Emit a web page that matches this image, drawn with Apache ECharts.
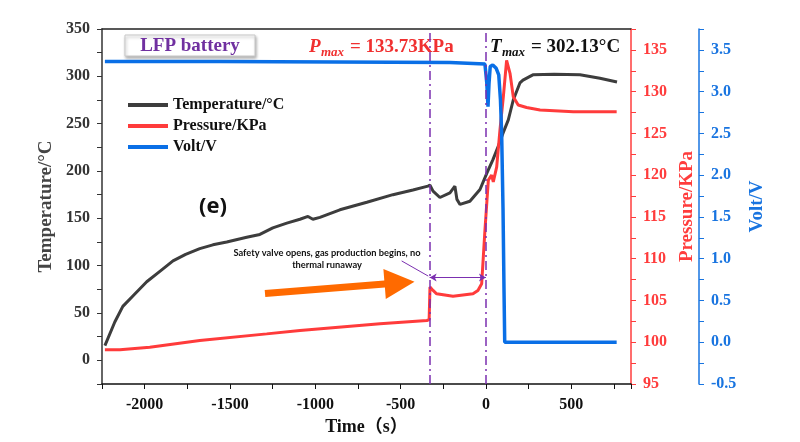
<!DOCTYPE html>
<html>
<head>
<meta charset="utf-8">
<script src="https://cdn.jsdelivr.net/npm/echarts@6/dist/echarts.min.js"></script>
<style>html,body{margin:0;background:#fff}#chart{width:800px;height:442px}</style>
</head>
<body>
<div id="chart"></div>
<script>
// time in s
var tempTime = [-2233, -2175, -2128, -2069, -1988, -1911, -1834, -1760, -1677, -1600, -1519, -1402, -1325, -1249, -1167, -1090, -1043, -1014, -973, -856, -698, -545, -428, -340, -328, -310, -270, -211, -182, -170, -152, -94, -35, 6, 41, 72, 100, 131, 160, 199, 217, 275, 400, 551, 668, 768];
var tempVal = [15.6, 40.5, 57, 68, 83, 94, 105, 112, 118, 122, 125, 130, 133, 140, 145, 149, 152, 149, 151, 159, 167, 175, 180, 184, 185, 178.7, 172, 177, 184, 170, 164.7, 168, 180.5, 198, 212, 226, 240, 254, 275, 293, 296, 301.6, 302.1, 301.6, 298, 294];

var presTime = [-2233, -2145, -1970, -1677, -1285, -1090, -621, -346, -333, -328, -310, -289, -193, -76, -47, -25, -6, 6, 14, 33, 43, 63, 82, 102, 121, 141, 160, 189, 238, 317, 512, 766];
var presVal = [99.1, 99.1, 99.4, 100.2, 101.0, 101.4, 102.2, 102.6, 102.7, 106.6, 106.2, 105.8, 105.5, 105.8, 106.2, 107, 113.4, 117, 119.4, 120, 119.2, 121, 125.4, 129.4, 133.73, 132.2, 129.4, 128.4, 128.1, 127.8, 127.6, 127.6];

var voltTime = [-2233, -1560, -1555, -211, -205, -6, 5, 12, 18, 25, 40, 60, 75, 85, 92, 100, 106, 110, 766];
var voltVal = [3.36, 3.36, 3.35, 3.35, 3.33, 3.33, 3.1, 2.82, 3.1, 3.3, 3.32, 3.28, 3.2, 2.9, 2.5, 1.6, 0.6, 0, 0];

var markTimes = [-330, 0];

var serif = 'Liberation Serif';

function pairs(xs, ys) {
	return xs.map(function(x, i) { return [x, ys[i]]; });
}

var myChart = echarts.init(document.getElementById('chart'));

var option = {
	animation: false,
	backgroundColor: '#fff',
	grid: { left: 102, right: 169, top: 29, bottom: 58 },
	legend: {
		orient: 'vertical',
		left: 123,
		top: 92,
		icon: 'rect',
		itemWidth: 40,
		itemHeight: 4,
		itemGap: 5,
		textStyle: { fontFamily: serif, fontWeight: 'bold', fontSize: 16, color: '#111', lineHeight: 16 },
		data: ['Temperature/°C', 'Pressure/KPa', 'Volt/V']
	},
	xAxis: [{
		type: 'value',
		min: -2250,
		max: 850,
		interval: 250,
		position: 'bottom',
		axisLine: { onZero: false, lineStyle: { color: '#111', width: 1.5 } },
		axisTick: { length: 5, lineStyle: { color: '#111' } },
		splitLine: { show: false },
		axisLabel: {
			margin: 13,
			fontFamily: serif, fontWeight: 'bold', fontSize: 16, color: '#111',
			formatter: function(v) { return v % 500 === 0 ? String(v) : ''; }
		},
		name: 'Time（s）',
		nameLocation: 'middle',
		nameGap: 30,
		nameTextStyle: { fontFamily: serif + ', Noto Sans CJK SC', fontWeight: 'bold', fontSize: 18, color: '#111' }
	}, {
		type: 'value',
		min: -2250,
		max: 850,
		position: 'top',
		axisLine: { onZero: false, lineStyle: { color: '#222', width: 1.5 } },
		axisTick: { show: false },
		axisLabel: { show: false },
		splitLine: { show: false }
	}],
	yAxis: [{
		type: 'value',
		min: -25,
		max: 350,
		interval: 25,
		position: 'left',
		axisLine: { show: true, onZero: false, lineStyle: { color: '#333', width: 1.5 } },
		axisTick: { show: true, length: 5, lineStyle: { color: '#333' } },
		splitLine: { show: false },
		axisLabel: {
			margin: 12,
			fontFamily: serif, fontWeight: 'bold', fontSize: 16, color: '#333',
			formatter: function(v) { return v % 50 === 0 ? String(v) : ''; }
		},
		name: 'Temperature/°C',
		nameLocation: 'middle',
		nameGap: 41,
		nameTextStyle: { fontFamily: serif, fontWeight: 'bold', fontSize: 19, color: '#444' }
	}, {
		type: 'value',
		min: 95,
		max: 137.5,
		interval: 2.5,
		position: 'right',
		axisLine: { show: true, onZero: false, lineStyle: { color: '#ff3c3c', width: 1.5 } },
		axisTick: { show: true, length: 5, lineStyle: { color: '#ff3c3c' } },
		splitLine: { show: false },
		axisLabel: {
			margin: 12,
			fontFamily: serif, fontWeight: 'bold', fontSize: 16, color: '#ff3c3c',
			formatter: function(v) { return v % 5 === 0 ? String(v) : ''; }
		},
		name: 'Pressure/KPa',
		nameLocation: 'middle',
		nameRotate: 90,
		nameGap: 47,
		nameTextStyle: { fontFamily: serif, fontWeight: 'bold', fontSize: 19, color: '#ff3c3c' }
	}, {
		type: 'value',
		min: -0.5,
		max: 3.75,
		interval: 0.25,
		position: 'right',
		offset: 68,
		axisLine: { show: true, onZero: false, lineStyle: { color: '#1874e0', width: 1.5 } },
		axisTick: { show: true, length: 5, lineStyle: { color: '#1874e0' } },
		splitLine: { show: false },
		axisLabel: {
			margin: 12,
			fontFamily: serif, fontWeight: 'bold', fontSize: 16, color: '#1874e0',
			formatter: function(v) {
				return Math.abs(v * 2 - Math.round(v * 2)) < 1e-9 ? v.toFixed(1) : '';
			}
		},
		name: 'Volt/V',
		nameLocation: 'middle',
		nameRotate: 90,
		nameGap: 47,
		nameTextStyle: { fontFamily: serif, fontWeight: 'bold', fontSize: 19, color: '#1874e0' }
	}],
	series: [{
		name: 'Temperature/°C',
		type: 'line',
		yAxisIndex: 0,
		showSymbol: false,
		symbol: 'none',
		lineStyle: { color: '#3d3d3d', width: 3 },
		itemStyle: { color: '#3d3d3d' },
		data: pairs(tempTime, tempVal),
		markLine: {
			silent: true,
			symbol: 'none',
			label: { show: false },
			lineStyle: { color: '#7b2fb0', width: 1.5, type: [9, 4, 2, 4] },
			data: [
				{ xAxis: markTimes[0] },
				{ xAxis: markTimes[1] },
				[
					{ coord: [markTimes[0], 87.6], symbol: 'arrow', symbolSize: [6, 7], lineStyle: { type: 'solid', width: 1.2 } },
					{ coord: [markTimes[1], 87.6], symbol: 'arrow', symbolSize: [6, 7] }
				],
				[
					{ coord: [-494, 105], lineStyle: { type: 'solid', width: 1 } },
					{ coord: [-338, 89] }
				]
			]
		}
	}, {
		name: 'Pressure/KPa',
		type: 'line',
		yAxisIndex: 1,
		showSymbol: false,
		symbol: 'none',
		lineStyle: { color: '#ff3b3b', width: 3 },
		itemStyle: { color: '#ff3b3b' },
		data: pairs(presTime, presVal)
	}, {
		name: 'Volt/V',
		type: 'line',
		yAxisIndex: 2,
		showSymbol: false,
		symbol: 'none',
		lineStyle: { color: '#0a6fe6', width: 3.5 },
		itemStyle: { color: '#0a6fe6' },
		data: pairs(voltTime, voltVal)
	}],
	graphic: [
		{ type: 'rect', shape: { x: 125, y: 35, width: 130, height: 21 },
		  style: { fill: '#fff', stroke: '#c8c8c8', lineWidth: 1, shadowBlur: 3, shadowOffsetX: 1, shadowOffsetY: 2, shadowColor: 'rgba(0,0,0,0.3)' } },
		{ type: 'text', x: 190, y: 46, style: { text: 'LFP battery', fill: '#7030a0', font: 'bold 19px ' + serif, textAlign: 'center', textVerticalAlign: 'middle' } },
		{ type: 'text', x: 213, y: 207, style: { text: '(e)', fill: '#111', font: 'bold 22px Open Sans', textAlign: 'center', textVerticalAlign: 'middle' } },
		{ type: 'text', x: 327, y: 253, style: { text: 'Safety valve opens, gas production begins, no', fill: '#111', font: 'bold 9.3px Lato', textAlign: 'center', textVerticalAlign: 'middle' } },
		{ type: 'text', x: 327, y: 264.5, style: { text: 'thermal runaway', fill: '#111', font: 'bold 9.3px Lato', textAlign: 'center', textVerticalAlign: 'middle' } },
		{ type: 'polygon', shape: { points: [[264.7, 290], [384.3, 280.6], [383.4, 269.1], [414.5, 281.8], [385.8, 299.1], [384.9, 287.6], [265.3, 297]] },
		  style: { fill: '#ff6a00' } },
		{ type: 'text', x: 309, y: 47, style: { text: 'P', fill: '#f03030', font: 'italic bold 19px ' + serif, textVerticalAlign: 'middle' } },
		{ type: 'text', x: 321, y: 53, style: { text: 'max', fill: '#f03030', font: 'italic bold 13px ' + serif, textVerticalAlign: 'middle' } },
		{ type: 'text', x: 350, y: 47, style: { text: '= 133.73KPa', fill: '#f03030', font: 'bold 19px ' + serif, textVerticalAlign: 'middle' } },
		{ type: 'text', x: 490, y: 47, style: { text: 'T', fill: '#111', font: 'italic bold 19px ' + serif, textVerticalAlign: 'middle' } },
		{ type: 'text', x: 502, y: 53, style: { text: 'max', fill: '#111', font: 'italic bold 13px ' + serif, textVerticalAlign: 'middle' } },
		{ type: 'text', x: 531, y: 47, style: { text: '= 302.13°C', fill: '#111', font: 'bold 19px ' + serif, textVerticalAlign: 'middle' } }
	]
};

myChart.setOption(option);
</script>
</body>
</html>
